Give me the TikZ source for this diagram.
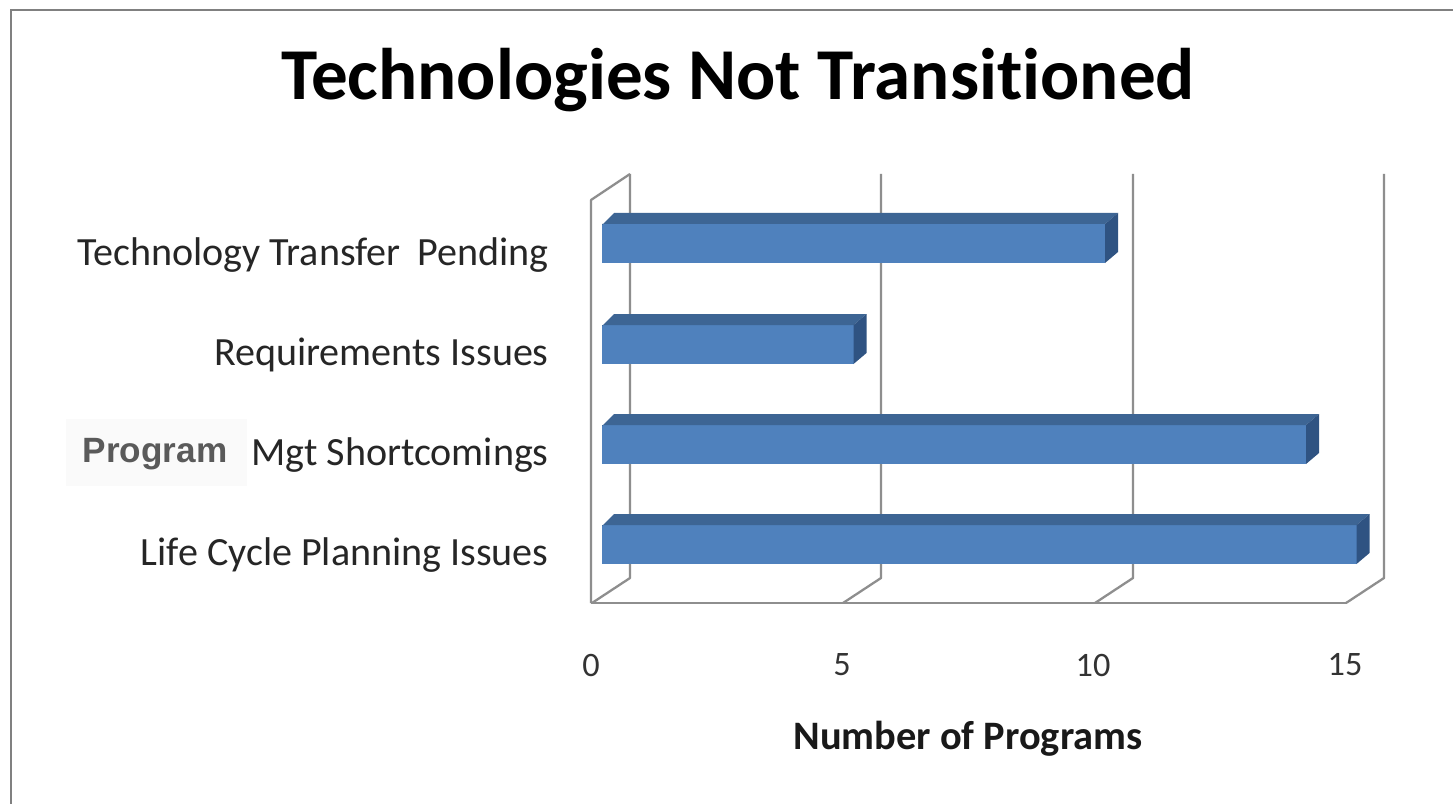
\documentclass[tikz,border=0pt]{standalone}
\usepackage{fontspec}
\setmainfont{Carlito}[Ligatures=NoCommon]
\newfontfamily\arialfont{Liberation Sans}
\usetikzlibrary{calc}
\definecolor{barfront}{HTML}{4F81BD}
\definecolor{bartop}{HTML}{3D6594}
\definecolor{barside}{HTML}{2F5382}
\definecolor{gridgray}{HTML}{8E8E8E}
\definecolor{labelgray}{HTML}{5A5A5A}
\tikzset{
	gridline/.style={line width=1.3pt, color=gridgray, line join=round},
	catlabel/.style={anchor=east, inner sep=0pt, text=black!85, font=\fontsize{22.8}{26}\selectfont},
	ticklabel/.style={inner sep=0pt, text=black!80, font=\fontsize{19.5}{22}\selectfont}
}
\def\blockbar(#1)(#2){%
	\fill[barfront] (602,#1) rectangle (#2,{#1+39});
	\fill[bartop] (602,{#1+1}) -- (614,{#1-11}) -- ({#2+13},{#1-11}) -- (#2,#1) -- (602,#1) -- cycle;
	\fill[barside] (#2,#1) -- ({#2+13},{#1-11}) -- ({#2+13},{#1+28}) -- (#2,{#1+39}) -- cycle;}

\begin{document}
\begin{tikzpicture}[x=0.02cm, y=-0.02cm]
			%%%%% START %%%%%
			\useasboundingbox (0, 0) rectangle (1453, 804);
			\fill[white] (0, 0) rectangle (1453, 804);
			
			% frame
			\draw[line width=1.7pt, color=black!50] (11, 804) -- (11, 10) -- (1453, 10);
			
			\node[font=\bfseries\fontsize{41.6}{46}\selectfont, inner sep=0pt] (title) at (738, 80) {Technologies Not Transitioned};
			
			% walls and floor
			\draw[gridline] (591, 603) -- (591, 200) -- (630, 174);
			\foreach \x in {630, 881, 1133, 1384}
				\draw[gridline] (\x, 174) -- (\x, 578) -- ({\x-38}, 603);
			\draw[gridline] (591, 603) -- (1347, 603);
			
			% bars
			\blockbar(224)(1105)
			\blockbar(325)(853.5)
			\blockbar(425)(1306)
			\blockbar(525)(1356.5)
			
			\node[catlabel] (cat1) at (549, 255) {Technology Transfer\hspace{0.2em} Pending};
			\node[catlabel] (cat2) at (549, 355) {Requirements Issues};
			\node[catlabel] (cat3) at (549, 455) {Mgt Shortcomings};
			\node[catlabel] (cat4) at (549, 555) {Life Cycle Planning Issues};
			
			\fill[black!2] (66, 419) rectangle (247, 486);
			\node[font=\arialfont\bfseries\fontsize{20}{24}\selectfont, text=labelgray, inner sep=0pt] (prog) at (155, 454) {Program};
			
			\foreach \v/\x in {0/591, 5/842, 10/1093, 15/1345}
				\node[ticklabel] (tick\v) at (\x, 665) {\v};
			
			\node[font=\bfseries\fontsize{23}{26}\selectfont, inner sep=0pt, text=black!90] (xtitle) at (968, 739) {Number of Programs};
			
			%%%%% END %%%%%
\end{tikzpicture}
\end{document}
